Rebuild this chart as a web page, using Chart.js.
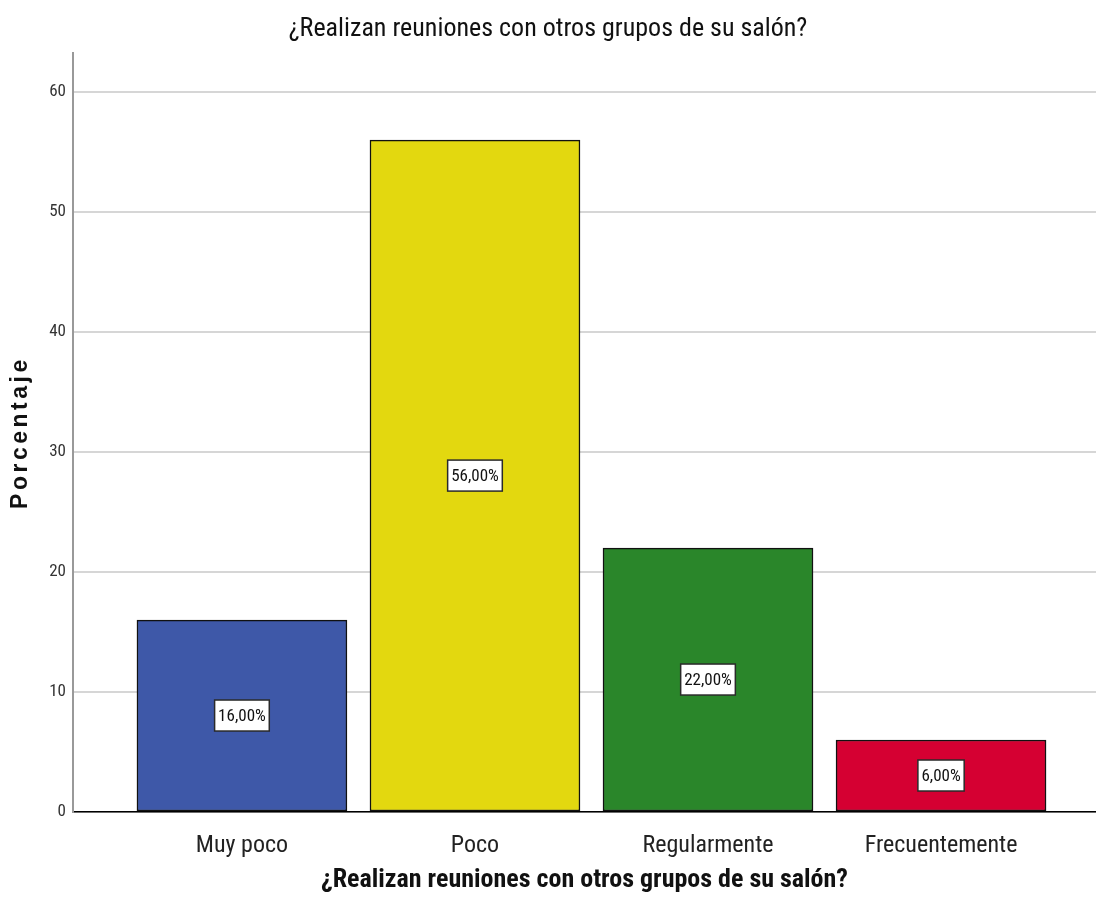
<!DOCTYPE html>
<html>
<head>
<meta charset="utf-8">
<script src="https://cdn.jsdelivr.net/npm/chart.js@4"></script>
<style>
  html, body { margin: 0; padding: 0; background: #fff; }
  #wrap { width: 1096px; height: 920px; }
</style>
</head>
<body>
<div id="wrap"><canvas id="chart" width="1096" height="920"></canvas></div>
<script>
const categories = ['Muy poco', 'Poco', 'Regularmente', 'Frecuentemente'];
const percentages = [16, 56, 22, 6];
const barColors = ['#3e58a8', '#e3d80f', '#2a862a', '#d50032'];
const yTicks = [0, 10, 20, 30, 40, 50, 60];

const chartTitle = '¿Realizan reuniones con otros grupos de su salón?';
const NARROW = "'Roboto Condensed', 'DejaVu Sans Condensed', sans-serif";

// white boxed percentage labels in the middle of each bar
const boxLabels = {
    id: 'boxLabels',
    afterDatasetsDraw(chart) {
        const ctx = chart.ctx;
        const meta = chart.getDatasetMeta(0);
        ctx.save();
        ctx.font = '17px ' + NARROW;
        ctx.textAlign = 'center';
        ctx.textBaseline = 'middle';
        meta.data.forEach((bar, i) => {
            const text = percentages[i].toFixed(2).replace('.', ',') + '%';
            const cy = (bar.y + bar.base) / 2;
            const w = ctx.measureText(text).width + 7;
            const h = 31;
            ctx.fillStyle = '#fff';
            ctx.fillRect(bar.x - w / 2, cy - h / 2, w, h);
            ctx.strokeStyle = '#2a2a2a';
            ctx.lineWidth = 1.5;
            ctx.strokeRect(bar.x - w / 2, cy - h / 2, w, h);
            ctx.fillStyle = '#111';
            ctx.fillText(text, bar.x, cy + 1);
        });
        ctx.restore();
    }
};

const ctx = document.getElementById('chart').getContext('2d');
const chart = new Chart(ctx, {
    type: 'bar',
    data: {
        datasets: [{
            data: percentages.map((v, i) => ({ x: i, y: v })),
            backgroundColor: barColors,
            borderColor: '#111',
            borderWidth: 1.5,
            borderSkipped: false,
            barThickness: 210
        }]
    },
    options: {
        responsive: false,
        animation: false,
        layout: { padding: 0 },
        plugins: {
            legend: { display: false },
            tooltip: { enabled: false },
            title: {
                display: true,
                text: chartTitle,
                color: '#111',
                font: { family: NARROW, size: 26, weight: 'normal' },
                padding: { top: 14, bottom: 8 }
            }
        },
        scales: {
            x: {
                type: 'linear',
                offset: false,
                min: -0.725,
                max: 3.665,
                afterBuildTicks(scale) {
                    scale.ticks = categories.map((c, i) => ({ value: i }));
                },
                afterFit(scale) { scale.height = 108; },
                ticks: {
                    autoSkip: false,
                    maxRotation: 0,
                    padding: 20,
                    color: '#222',
                    font: { family: NARROW, size: 24 },
                    callback: (v) => categories[v]
                },
                grid: { display: false, drawTicks: false },
                border: { display: true, color: '#000', width: 1.5 },
                title: {
                    display: true,
                    text: chartTitle,
                    color: '#111',
                    font: { family: NARROW, size: 26, weight: 'bold' },
                    padding: { top: 0, bottom: 24 }
                }
            },
            y: {
                min: 0,
                max: 63.25,
                afterBuildTicks(scale) {
                    scale.ticks = yTicks.map(v => ({ value: v }));
                },
                afterFit(scale) { scale.width = 73; },
                afterUpdate(scale) {
                    // the axis title is letter-spaced in the original
                    const drawTitle = Object.getPrototypeOf(scale).drawTitle;
                    scale.drawTitle = function () {
                        this.ctx.save();
                        this.ctx.letterSpacing = '3.5px';
                        drawTitle.call(this);
                        this.ctx.restore();
                    };
                },
                ticks: {
                    padding: 7,
                    color: '#333',
                    font: { family: NARROW, size: 17 }
                },
                grid: { color: '#d6d6d6', lineWidth: 2, drawTicks: false },
                border: { display: true, color: '#999', width: 2 },
                title: {
                    display: true,
                    text: 'Porcentaje',
                    color: '#111',
                    font: { family: "'Liberation Sans', Arial, sans-serif", size: 23, weight: 'bold' },
                    padding: { top: 7, bottom: 0 }
                }
            }
        }
    },
    plugins: [boxLabels]
});
</script>
</body>
</html>
